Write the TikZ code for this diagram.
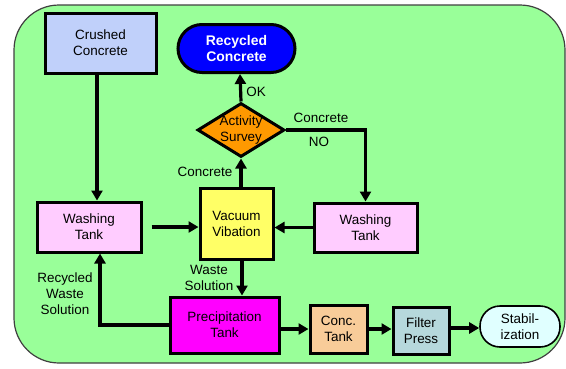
\documentclass[tikz,border=0pt]{standalone}
\usepackage{fontspec}
\setmainfont{Liberation Sans}
\usetikzlibrary{shapes.geometric,arrows.meta}
\definecolor{bggreen}{RGB}{153,255,153}
\definecolor{crushblue}{RGB}{192,208,250}
\definecolor{recblue}{RGB}{0,0,255}
\definecolor{survorange}{RGB}{255,153,0}
\definecolor{vacyellow}{RGB}{255,255,102}
\definecolor{washpink}{RGB}{255,204,255}
\definecolor{precmag}{RGB}{255,0,255}
\definecolor{conctan}{RGB}{248,204,153}
\definecolor{filtblue}{RGB}{182,216,220}
\definecolor{stabcyan}{RGB}{224,255,255}
\begin{document}
\begin{tikzpicture}[x=1bp,y=-1bp,
  box/.style={draw=black, line width=3bp, align=center, inner sep=0pt,
    font=\fontsize{13.5}{16}\selectfont},
  arr/.style={line width=3.2bp, -{Triangle[length=10bp,width=11bp]}},
  ln/.style={line width=3.2bp},
  lbl/.style={font=\fontsize{13.5}{16}\selectfont, align=center, inner sep=0pt}]
\useasboundingbox (0,0) rectangle (566,368);
\draw[fill=bggreen, draw=black!75, line width=1.2bp, rounded corners=45bp] (14,5) rectangle (565,363);

\node[box, fill=crushblue, minimum width=111bp, minimum height=60bp] (crushed) at (100.5,43) {Crushed\\Concrete};
\node[box, fill=recblue, text=white, minimum width=117bp, minimum height=48bp, rounded corners=24bp,
  font=\fontsize{14}{16}\selectfont\bfseries] (recyc) at (236.5,48.5) {Recycled\\Concrete};
\node[diamond, draw=black, line width=3bp, fill=survorange, minimum width=87bp, minimum height=54bp, inner sep=0pt] (survey) at (241,130) {};
\node[lbl] (surveytext) at (survey.center) {Activity\\Survey};
\node[box, fill=vacyellow, minimum width=73bp, minimum height=71bp] (vacuum) at (236.5,223.5) {Vacuum\\Vibation};
\node[box, fill=washpink, minimum width=104bp, minimum height=50bp] (washL) at (89,227) {Washing\\Tank};
\node[box, fill=washpink, minimum width=103bp, minimum height=49bp] (washR) at (365.5,227.5) {Washing\\Tank};
\node[box, fill=precmag, minimum width=109bp, minimum height=56bp] (precip) at (224.5,325) {Precipitation\\Tank};
\node[box, fill=conctan, minimum width=57bp, minimum height=48bp] (conc) at (338.5,329) {Conc.\\Tank};
\node[box, fill=filtblue, minimum width=56bp, minimum height=47bp] (filter) at (421,330.5) {Filter\\Press};
\node[box, line width=1.6bp, fill=stabcyan, minimum width=80bp, minimum height=41bp, rounded corners=20bp] (stab) at (520,326.5) {Stabil-\\ization};

% connectors
\draw[arr] ([xshift=-3.5bp]crushed.south) -- ([xshift=-3.5bp]crushed.south |- washL.north);
\draw[arr] ([xshift=9bp]washL.east) -- (vacuum.west |- washL.east);
\draw[arr] (washR.west) -- (vacuum.east |- washR.west);
\draw[arr] (survey.south |- vacuum.north) -- (survey.south);
\draw[arr] (survey.north) -- ([xshift=-1bp]survey.north |- recyc.south);
\draw[ln] (survey.east) -| ([yshift=14bp]washR.north);
\draw[arr] ([yshift=15bp]washR.north) -- (washR.north);
\draw[arr] ([xshift=5.5bp]vacuum.south) -- ([xshift=5.5bp]vacuum.south |- precip.north);
\draw[arr] (precip.west) -| ([xshift=11bp]washL.south);
\draw[arr] (precip.east |- conc.west) -- (conc.west);
\draw[arr] (conc.east) -- (filter.west |- conc.east);
\draw[arr] ([yshift=2.5bp]filter.east) -- ([yshift=2.5bp]stab.west |- filter.east);

% labels
\node[lbl] (ok) at (256,92) {OK};
\node[lbl] (conclbl1) at (205,172) {Concrete};
\node[lbl] (conclbl2) at (321,118) {Concrete};
\node[lbl] (no) at (319,142) {NO};
\node[lbl] (waste) at (209,278) {Waste\\Solution};
\node[lbl] (recwaste) at (65,294) {Recycled\\Waste\\Solution};
\end{tikzpicture}
\end{document}
